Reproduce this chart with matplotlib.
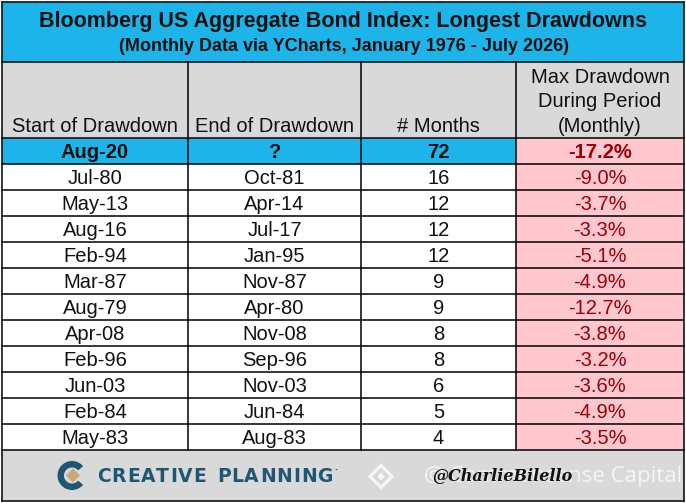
import matplotlib
matplotlib.use("Agg")
import matplotlib.pyplot as plt
from matplotlib.patches import Rectangle, Wedge, Polygon

plt.rcParams['font.family'] = ['Liberation Sans', 'DejaVu Sans']

title = "Bloomberg US Aggregate Bond Index: Longest Drawdowns"
subtitle = "(Monthly Data via YCharts, January 1976 - July 2026)"
headers = ["Start of Drawdown", "End of Drawdown", "# Months", "Max Drawdown\nDuring Period\n(Monthly)"]
starts = ['Aug-20', 'Jul-80', 'May-13', 'Aug-16', 'Feb-94', 'Mar-87', 'Aug-79', 'Apr-08', 'Feb-96', 'Jun-03', 'Feb-84', 'May-83']
ends = ['?', 'Oct-81', 'Apr-14', 'Jul-17', 'Jan-95', 'Nov-87', 'Apr-80', 'Nov-08', 'Sep-96', 'Nov-03', 'Jun-84', 'Aug-83']
months = [72, 16, 12, 12, 12, 9, 9, 8, 8, 6, 5, 4]
max_dd = [-17.2, -9.0, -3.7, -3.3, -5.1, -4.9, -12.7, -3.8, -3.2, -3.6, -4.9, -3.5]
brand = "CREATIVE PLANNING"
handle = "@CharlieBilello"
watermark = "@ Commonsense Capital"

W, H = 686, 503
fig = plt.figure(figsize=(W / 100, H / 100), dpi=100)
ax = fig.add_axes([0, 0, 1, 1])
ax.set_xlim(0, W)
ax.set_ylim(H, 0)
ax.axis('off')

BLUE = '#1DB4E9'
GRAY = '#D9D9D9'
PINK = '#FFC7CE'
RED = '#9C0006'
TEAL = '#1F5673'

cols = [2, 188, 361, 516, 684]
centers = [(cols[i] + cols[i + 1]) / 2 for i in range(4)]
title_top, title_bot = 2, 62
head_bot = 138
row_h = 26
n = len(starts)
table_bot = head_bot + n * row_h
foot_bot = 501

# backgrounds
ax.add_patch(Rectangle((cols[0], title_top), cols[-1] - cols[0], title_bot - title_top, fc=BLUE, ec='none'))
ax.add_patch(Rectangle((cols[0], title_bot), cols[-1] - cols[0], head_bot - title_bot, fc=GRAY, ec='none'))
ax.add_patch(Rectangle((cols[0], table_bot), cols[-1] - cols[0], foot_bot - table_bot, fc=GRAY, ec='none'))
for i in range(n):
    y0 = head_bot + i * row_h
    if i == 0:
        ax.add_patch(Rectangle((cols[0], y0), cols[3] - cols[0], row_h, fc=BLUE, ec='none'))
    ax.add_patch(Rectangle((cols[3], y0), cols[4] - cols[3], row_h, fc=PINK, ec='none'))

# grid lines
lw = 1.1
for y in [title_top, title_bot, head_bot] + [head_bot + i * row_h for i in range(1, n + 1)] + [foot_bot]:
    ax.plot([cols[0], cols[-1]], [y, y], color='black', lw=lw)
for x in [cols[0], cols[-1]]:
    ax.plot([x, x], [title_top, foot_bot], color='black', lw=lw)
for x in cols[1:-1]:
    ax.plot([x, x], [title_bot, table_bot], color='black', lw=lw)

# title
ax.text(W / 2, 21, title, ha='center', va='center', fontsize=15.5, fontweight='bold', color='#111111')
ax.text(W / 2 + 1, 46, subtitle, ha='center', va='center', fontsize=13, fontweight='bold', color='#111111')

FS = 14.5
# headers
for i in range(3):
    ax.text(centers[i], 126, headers[i], ha='center', va='center', fontsize=FS, color='#111111')
for j, line in enumerate(headers[3].split('\n')):
    ax.text(centers[3], 77 + j * 24.5, line, ha='center', va='center', fontsize=FS, color='#111111')

# rows
for i in range(n):
    yc = head_bot + i * row_h + row_h / 2 + 1
    fw = 'bold' if i == 0 else 'normal'
    vals = [starts[i], ends[i], str(months[i]), f"{max_dd[i]:.1f}%"]
    for k, v in enumerate(vals):
        ax.text(centers[k], yc, v, ha='center', va='center', fontsize=FS, fontweight=fw,
                color=RED if k == 3 else '#111111')

# footer: logo
fy = (table_bot + foot_bot) / 2
ax.add_patch(Wedge((72, fy), 14.5, 40, 320, width=6.5, fc=TEAL, ec='none'))
ax.add_patch(Polygon([(73, fy - 7), (80, fy), (73, fy + 7), (66, fy)], closed=True, fc='#C9A977', ec='none'))

# letter-spaced brand text, spanning about x=97..333
fig.canvas.draw()
renderer = fig.canvas.get_renderer()
inv = ax.transData.inverted()
def text_w(s, **kw):
    t = ax.text(0, 0, s, **kw)
    bb = t.get_window_extent(renderer=renderer)
    t.remove()
    x0 = inv.transform((bb.x0, 0))[0]
    x1 = inv.transform((bb.x1, 0))[0]
    return x1 - x0
bkw = dict(fontsize=13.5, fontweight='bold', family=['DejaVu Sans'])
widths = [text_w(c, **bkw) if c != ' ' else 0 for c in brand]
total_target = 333 - 97
space_w = 9
letters = [w for c, w in zip(brand, widths) if c != ' ']
gap = (total_target - sum(letters) - space_w) / (len(brand) - 1)
x = 97
for c, w in zip(brand, widths):
    if c == ' ':
        x += space_w + gap
        continue
    ax.text(x, fy + 1, c, ha='left', va='center', color=TEAL, **bkw)
    x += w + gap
ax.text(x - gap + 1, fy - 5, "·", ha='left', va='center', fontsize=8, color=TEAL, fontweight='bold')

# watermark (diamond icon + text)
cx, cy = 381, fy + 1
ax.add_patch(Polygon([(cx, cy - 11), (cx + 11, cy), (cx, cy + 11), (cx - 11, cy)], closed=True,
                     fc='none', ec='white', lw=2.2, alpha=0.8))
ax.add_patch(Polygon([(cx, cy - 4), (cx + 4, cy), (cx, cy + 4), (cx - 4, cy)], closed=True,
                     fc='white', ec='none', alpha=0.8))
ax.text(682, fy + 1, watermark, ha='right', va='center', fontsize=16, color='white', alpha=0.75,
        family=['Open Sans', 'DejaVu Sans'])
ax.text(432, fy, handle, ha='left', va='center', fontsize=11.5, fontstyle='italic',
        fontweight='bold', color='#111111', family=['DejaVu Serif'])

fig.savefig('out.png', dpi=100)
